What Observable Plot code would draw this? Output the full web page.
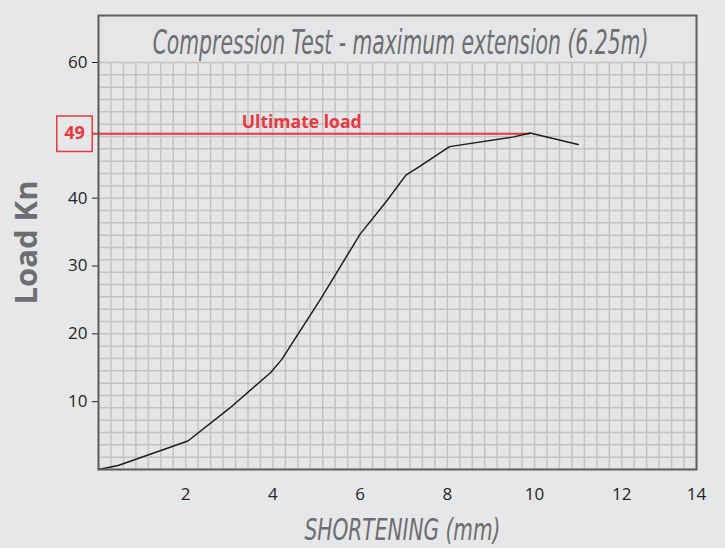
<!DOCTYPE html>
<html>
<head>
<meta charset="utf-8">
<script src="https://cdn.jsdelivr.net/npm/d3@7"></script>
<script src="https://cdn.jsdelivr.net/npm/@observablehq/plot@0.6"></script>
<style>
  html, body { margin: 0; padding: 0; background: #e6e7e8; }
  #chart svg { display: block; }
</style>
</head>
<body>
<div id="chart"></div>
<script>
// ---- data ----
const shortening = [0, 0.45, 2.05, 3.0, 3.95, 4.2, 5.1, 6.0, 6.6, 7.05, 7.35, 8.05, 9.5, 9.9, 11.0];
const load       = [0, 0.6, 4.2, 9.0, 14.3, 16.2, 25.2, 34.7, 39.5, 43.4, 44.6, 47.6, 49.0, 49.6, 47.9];

const yTicks = [10, 20, 30, 40, 60];
const xTickLabels = ["2", "4", "6", "8", "10", "12", "14"];

const ultimateLoad = 49.5;
const ultimateX = 9.9;
const ultimateLabel = "49";
const ultimateText = "Ultimate load";

const titleText = "Compression Test - maximum extension (6.25m)";
const xLabel = "SHORTENING (mm)";
const yLabel = "Load Kn";

// ---- graph paper layout ----
const xCell = 2 / 7, xCells = 48;          // 7 cells per 2 mm
const yCell = 60 / 33, yCells = 33;        // 33 cells from 0 to 60
const xMax = xCell * xCells;
const yTop = 66.93;                        // top of the framed title box
const gridX = d3.range(0, xCells + 1).map(k => k * xCell);
const gridY = d3.range(0, yCells + 1).map(k => k * yCell);
const xTickValues = [2, 4, 6, 8, 10, 12, xMax];

const data = shortening.map((x, i) => ({x, y: load[i]}));
const red = "#e8383f";
const condensed = "'Liberation Sans Narrow', 'DejaVu Sans Condensed', 'DejaVu Sans', sans-serif";

const plot = Plot.plot({
  width: 725,
  height: 548,
  marginLeft: 98,
  marginRight: 29,
  marginTop: 15,
  marginBottom: 79,
  x: {domain: [0, xMax]},
  y: {domain: [0, yTop]},
  style: {background: "transparent", fontFamily: "'Open Sans', 'Noto Sans', sans-serif"},
  marks: [
    Plot.frame({fill: "#e4e5e6", stroke: null}),
    Plot.ruleX(gridX, {y1: 0, y2: 60, stroke: "#c3c3c3", strokeWidth: 1.5}),
    Plot.ruleY(gridY, {x1: 0, x2: xMax, stroke: "#c3c3c3", strokeWidth: 1.5}),
    Plot.ruleY([ultimateLoad], {x1: 0, x2: ultimateX, insetLeft: -6, stroke: red, strokeWidth: 2}),
    Plot.line(data, {x: "x", y: "y", stroke: "#1e1e1e", strokeWidth: 1.5}),
    Plot.axisY({ticks: yTicks, tickSize: 6, tickPadding: 5, fontSize: 17, color: "#262626", label: null}),
    Plot.axisX({
      ticks: xTickValues,
      tickFormat: d => xTickLabels[xTickValues.indexOf(d)],
      tickSize: 0, tickPadding: 18, fontSize: 17, color: "#262626", label: null
    }),
    Plot.frame({stroke: "#5e5e5e", strokeWidth: 2}),
    // ultimate load box + labels
    Plot.dot([ultimateLoad], {x: () => 0, y: d => d, dx: -24, symbol: "square", r: 20, fill: "none", stroke: red, strokeWidth: 1.5}),
    Plot.text([ultimateLabel], {x: () => 0, y: () => ultimateLoad, text: d => d, dx: -24, fontSize: 18, fontWeight: "bold", fill: red}),
    Plot.text([ultimateText], {x: () => 4.66, y: () => ultimateLoad, text: d => d, dy: -12, fontSize: 18, fontWeight: "bold", fill: red}),
    // title inside the frame
    Plot.text([titleText], {frameAnchor: "top", text: d => d, dx: 3, dy: 14, fontSize: 34, fontStyle: "italic",
      fontFamily: condensed, fill: "#6d6e71"}),
    // axis titles
    Plot.text([xLabel], {frameAnchor: "bottom", text: d => d, dx: 5, dy: 70, fontSize: 30, fontStyle: "italic",
      fontFamily: condensed, fill: "#6d6e71"}),
    Plot.text([yLabel], {frameAnchor: "left", textAnchor: "middle", text: d => d, dx: -71, rotate: -90, fontSize: 31, fontWeight: "bold",
      fill: "#6d6e71"})
  ]
});

document.getElementById("chart").appendChild(plot);

// squeeze the condensed texts horizontally to the reference widths
const fits = {};
fits[titleText] = 496;
fits[xLabel] = 196;
fits[ultimateText] = 120;
plot.querySelectorAll("text").forEach(t => {
  const w = fits[t.textContent];
  if (w) {
    const natural = t.getComputedTextLength();
    if (natural > 0) {
      const sx = w / natural;
      const tr = t.getAttribute("transform") || "";
      t.setAttribute("transform", (tr + ` scale(${sx.toFixed(4)},1)`).trim());
      const xAttr = t.getAttribute("x");
      if (xAttr) t.setAttribute("x", (+xAttr) / sx);
    }
  }
});
</script>
</body>
</html>
